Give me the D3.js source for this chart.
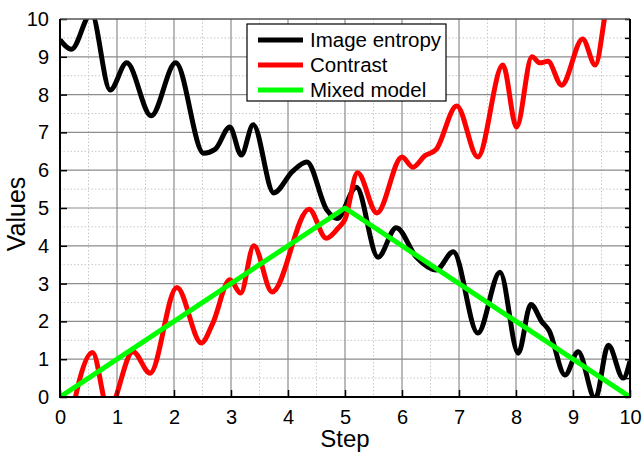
<!DOCTYPE html>
<html><head><meta charset="utf-8">
<script src="https://cdn.jsdelivr.net/npm/d3@7"></script>
<style>
html,body{margin:0;padding:0;background:#fff;}
svg text{font-family:"Liberation Sans",Arial,sans-serif;fill:#000;}
</style></head>
<body><svg id="c" width="644" height="452"></svg>
<script>
// ---- data ----
const seriesNames = ["Image entropy", "Contrast", "Mixed model"];
const seriesColors = ["#000000", "#ff0000", "#00ff00"];
const xTicks = [0,1,2,3,4,5,6,7,8,9,10];
const yTicks = [0,1,2,3,4,5,6,7,8,9,10];

const entropyX = [0,0.2,0.55,0.88,1.17,1.6,2.03,2.52,2.72,2.98,3.18,3.39,3.75,4.08,4.33,4.68,4.86,5.2,5.58,5.9,6.25,6.6,6.9,7.33,7.72,8.04,8.26,8.45,8.58,8.86,9.09,9.39,9.62,9.88,10];
const entropyY = [9.45,9.2,10.15,8.12,8.84,7.44,8.84,6.45,6.55,7.14,6.4,7.2,5.4,5.97,6.22,4.95,4.72,5.55,3.7,4.48,3.7,3.36,3.84,1.69,3.3,1.16,2.45,2.0,1.76,0.58,1.2,-0.05,1.37,0.5,0.95];

const contrastX = [0.12,0.57,0.85,1.28,1.58,2.05,2.48,2.68,2.98,3.17,3.4,3.72,4.37,4.67,4.88,5.0,5.22,5.56,6.0,6.19,6.4,6.6,6.96,7.33,7.77,8.01,8.28,8.42,8.56,8.8,9.17,9.39,9.55,9.75];
const contrastY = [-1.1,1.18,-0.35,1.2,0.63,2.9,1.43,1.95,3.1,2.75,4.0,2.78,4.97,4.2,4.47,4.7,5.93,4.87,6.35,6.08,6.38,6.55,7.7,6.35,8.78,7.14,9.0,8.84,8.88,8.25,9.47,8.78,10.0,12.5];

const mixedX = [0,5,10];
const mixedY = [0,5,0];

// ---- layout ----
const L=60, R=630, T=19, B=397;
const svg = d3.select("#c");
const x = d3.scaleLinear().domain([0,10]).range([L,R]);
const y = d3.scaleLinear().domain([0,10]).range([B,T]);

// minor grid
const minor = d3.range(0.5,10,1);
svg.append("g").selectAll("line").data(minor).join("line")
  .attr("x1",d=>x(d)).attr("x2",d=>x(d)).attr("y1",T).attr("y2",B)
  .attr("stroke","#c8c8c8").attr("stroke-width",1).attr("stroke-dasharray","1.5,2");
svg.append("g").selectAll("line").data(minor).join("line")
  .attr("y1",d=>y(d)).attr("y2",d=>y(d)).attr("x1",L).attr("x2",R)
  .attr("stroke","#c8c8c8").attr("stroke-width",1).attr("stroke-dasharray","1.5,2");
// major grid
svg.append("g").selectAll("line").data(xTicks.slice(1,-1)).join("line")
  .attr("x1",d=>x(d)).attr("x2",d=>x(d)).attr("y1",T).attr("y2",B)
  .attr("stroke","#8c8c8c").attr("stroke-width",1.2);
svg.append("g").selectAll("line").data(yTicks.slice(1,-1)).join("line")
  .attr("y1",d=>y(d)).attr("y2",d=>y(d)).attr("x1",L).attr("x2",R)
  .attr("stroke","#8c8c8c").attr("stroke-width",1.2);

// clip
svg.append("clipPath").attr("id","clip").append("rect")
  .attr("x",L).attr("y",T).attr("width",R-L).attr("height",B-T);

const line = d3.line().x(d=>x(d[0])).y(d=>y(d[1]));
const plot = svg.append("g").attr("clip-path","url(#clip)");
const ent = d3.zip(entropyX, entropyY);
const con = d3.zip(contrastX, contrastY);
const mix = d3.zip(mixedX, mixedY);
plot.append("path").attr("d",line.curve(d3.curveMonotoneX)(ent))
  .attr("fill","none").attr("stroke",seriesColors[0]).attr("stroke-width",5).attr("stroke-linejoin","round");
plot.append("path").attr("d",line.curve(d3.curveMonotoneX)(con))
  .attr("fill","none").attr("stroke",seriesColors[1]).attr("stroke-width",5).attr("stroke-linejoin","round");
plot.append("path").attr("d",line.curve(d3.curveLinear)(mix))
  .attr("fill","none").attr("stroke",seriesColors[2]).attr("stroke-width",5).attr("stroke-linejoin","round");

// axes
const fmt = d3.format("d");
const ax = svg.append("g").attr("transform",`translate(0,${B})`)
  .call(d3.axisBottom(x).tickValues(xTicks).tickFormat(fmt).tickSizeInner(-7).tickSizeOuter(0).tickPadding(13));
const ay = svg.append("g").attr("transform",`translate(${L},0)`)
  .call(d3.axisLeft(y).tickValues(yTicks).tickFormat(fmt).tickSizeInner(-7).tickSizeOuter(0).tickPadding(11));
const ar = svg.append("g").attr("transform",`translate(${R},0)`)
  .call(d3.axisRight(y).tickValues(d3.range(0,10.01,0.5)).tickFormat("").tickSizeInner(-5).tickSizeOuter(0));
[ax,ay,ar].forEach(g=>{
  g.selectAll(".domain").remove();
  g.selectAll(".tick line").attr("stroke","#000").attr("stroke-width",1.5);
  g.selectAll("text").style("font-size","20px").attr("font-family","Liberation Sans, Arial, sans-serif");
});
// frame
svg.append("line").attr("x1",L).attr("x2",R).attr("y1",T).attr("y2",T).attr("stroke","#555").attr("stroke-width",1.5);
svg.append("line").attr("x1",L).attr("x2",L).attr("y1",T).attr("y2",B).attr("stroke","#000").attr("stroke-width",2);
svg.append("line").attr("x1",R).attr("x2",R).attr("y1",T).attr("y2",B).attr("stroke","#000").attr("stroke-width",2);
svg.append("line").attr("x1",L-1).attr("x2",R+1).attr("y1",B).attr("y2",B).attr("stroke","#000").attr("stroke-width",2);

// titles
svg.append("text").attr("x",(L+R)/2).attr("y",447).attr("text-anchor","middle")
  .style("font-size","24px").text("Step");
svg.append("text").attr("transform","translate(25,214) rotate(-90)").attr("text-anchor","middle")
  .style("font-size","25px").text("Values");

// legend
const lg = svg.append("g");
lg.append("rect").attr("x",247).attr("y",24).attr("width",199).attr("height",77)
  .attr("fill","#fff").attr("stroke","#000").attr("stroke-width",1.2);
seriesNames.forEach((n,i)=>{
  const yy = 40 + i*25;
  lg.append("line").attr("x1",258).attr("x2",303).attr("y1",yy).attr("y2",yy)
    .attr("stroke",seriesColors[i]).attr("stroke-width",5);
  lg.append("text").attr("x",310).attr("y",yy+7).style("font-size","20.5px").text(n);
});
</script></body></html>
